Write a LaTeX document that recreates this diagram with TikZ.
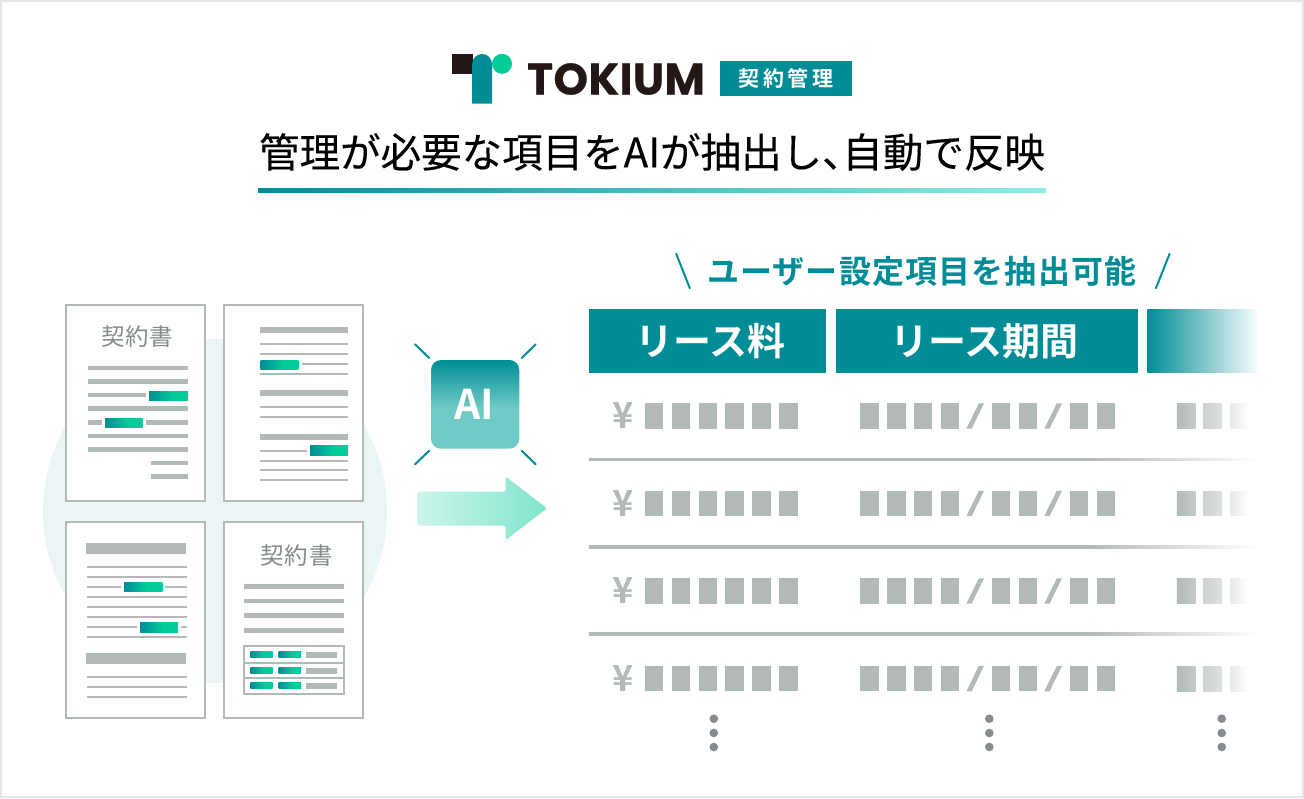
\documentclass[tikz,border=0pt]{standalone}
\usepackage{fontspec}
\setmainfont{Noto Sans CJK JP}
\newfontfamily\jpmed[FakeBold=0.25]{Noto Sans CJK JP}
\newfontfamily\jpbold{Noto Sans CJK JP Bold}
\newfontfamily\logofont[FakeBold=0.6]{Poppins Bold}
\definecolor{brandteal}{RGB}{0, 140, 150}
\definecolor{brandgreen}{RGB}{0, 204, 153}
\definecolor{softteal}{RGB}{111, 203, 197}
\definecolor{barend}{RGB}{142, 238, 228}
\definecolor{barfill}{RGB}{179, 184, 184}
\definecolor{papertitle}{RGB}{133, 138, 138}
\definecolor{discfill}{RGB}{235, 245, 246}
\definecolor{dotfill}{RGB}{135, 138, 142}
\definecolor{inkblack}{RGB}{35, 24, 21}
\usetikzlibrary{positioning}
\pgfdeclarehorizontalshading{chipfade}{100bp}{color(0bp)=(brandteal); color(25bp)=(brandteal); color(55bp)=(brandgreen); color(100bp)=(brandgreen)}
\pgfdeclarehorizontalshading{rulefade}{100bp}{color(0bp)=(barfill); color(25bp)=(barfill); color(62bp)=(barfill); color(75bp)=(white); color(100bp)=(white)}
\pgfdeclareverticalshading{aifade}{100bp}{color(0bp)=(softteal); color(25bp)=(softteal); color(48bp)=(softteal); color(75bp)=(brandteal); color(100bp)=(brandteal)}

\begin{document}
\begin{tikzpicture}[x=1pt, y=-1pt,
    paper/.style={draw=barfill, line width=2pt, fill=white},
    thinbar/.style={draw=barfill, line width=2pt},
    midbar/.style={draw=barfill, line width=4.6pt},
    headbar/.style={draw=barfill, line width=6pt},
    widebar/.style={draw=barfill, line width=11pt},
    chip/.style={shading=chipfade},
    papertext/.style={text=papertitle, inner sep=0pt, font=\fontsize{23.5}{25}\selectfont\addfontfeature{LetterSpace=3}},
    headcell/.style={text=white, inner sep=0pt, font=\fontsize{38}{42}\jpbold\selectfont},
    ray/.style={draw=brandteal, line width=2pt, line cap=round},
    block/.style={fill=barfill},
    moredots/.style={circle, fill=dotfill, inner sep=0pt, minimum size=8.6pt}]
  \useasboundingbox (0,0) rectangle (1304,798);

  % Frame
  \draw[fill=white, draw=black!10, line width=2pt] (1,1) rectangle (1303,797);

  % Logo
  \fill[inkblack] (452,54) rectangle (472.5,73.7);
  \fill[brandteal] (472.2,103.7) -- (472.2,64) arc[start angle=180, end angle=0, x radius=9.9, y radius=-10] -- (492,103.7) -- cycle;
  \fill[brandgreen] (502,63.8) circle[radius=10];
  \node[text=inkblack, inner sep=0pt, font=\fontsize{44}{46}\logofont\selectfont\addfontfeature{LetterSpace=1}] (tokium) at (616,79) {TOKIUM};
  \node[fill=brandteal, text=white, inner sep=0pt, minimum width=132.4pt, minimum height=35pt, font=\fontsize{21}{23}\jpbold\selectfont\addfontfeature{LetterSpace=17}] (badge) at (785.8,78.8) {契約管理};

  % Title
  \node[text=black, inner sep=0pt, font=\fontsize{40.5}{44}\jpmed\selectfont] (title) at (652,152) {管理が必要な項目をAIが抽出し、\hspace{-0.5em}自動で反映};
  \shade[left color=brandteal, right color=barend] (258,188) rectangle (1046,192);

  % Disc behind papers
  \fill[discfill] (215,511) circle[radius=172];

  % Paper 1
  \draw[paper] (66,305) rectangle (205,500.5);
  \node[papertext] (paperone) at (137,337) {契約書};
  \foreach \yy in {368,381.5,408.6,436,449.6}
    \draw[midbar] (88,\yy) -- (188,\yy);
  \draw[midbar] (88,395) -- (146,395);
  \draw[midbar] (88,422.5) -- (101.7,422.5);
  \draw[midbar] (146,422.5) -- (188,422.5);
  \draw[midbar] (150.7,463) -- (188,463);
  \draw[midbar] (150.7,476.5) -- (188,476.5);
  \shade[chip] (149,391) rectangle (188,400);
  \shade[chip] (105,418) rectangle (142.7,427);

  % Paper 2
  \draw[paper] (224,305) rectangle (363,500.5);
  \foreach \yy in {330,392.7,436.7}
    \draw[headbar] (260,\yy) -- (348,\yy);
  \foreach \yy in {343.7,353.7,374,406.7,416.7,460.7,470,480}
    \draw[thinbar] (260,\yy) -- (348,\yy);
  \draw[thinbar] (302,364) -- (348,364);
  \draw[thinbar] (260,450.7) -- (307,450.7);
  \shade[chip] (260.7,360) rectangle (298.3,369.3);
  \shade[chip] (310,445.7) rectangle (348,455);

  % Paper 3
  \draw[paper] (66,522) rectangle (205,718);
  \foreach \yy in {548.7,658.8}
    \draw[widebar] (86,\yy) -- (186,\yy);
  \foreach \yy in {566.7,576.7,596.7,607.3,617.3,637.3,676.7,686.7,696.7}
    \draw[thinbar] (87,\yy) -- (186.7,\yy);
  \draw[thinbar] (87,586.7) -- (121,586.7);
  \draw[thinbar] (165,586.7) -- (186.7,586.7);
  \draw[thinbar] (87,627.3) -- (136.7,627.3);
  \draw[thinbar] (181.3,627.3) -- (186.7,627.3);
  \shade[chip] (124,582) rectangle (162.3,591.3);
  \shade[chip] (140,622.7) rectangle (178,632);

  % Paper 4
  \draw[paper] (224,522) rectangle (363,718);
  \node[papertext] (paperfour) at (296.7,556) {契約書};
  \foreach \yy in {586.3,601,615.7,630.3}
    \draw[midbar] (244,\yy) -- (343.7,\yy);
  \draw[thinbar] (243.7,645.7) rectangle (343.7,694);
  \draw[thinbar] (243.7,662.7) -- (343.7,662.7);
  \draw[thinbar] (243.7,678.3) -- (343.7,678.3);
  \foreach \yy in {654.7,670.7,685.7} {
    \shade[chip] (250.3,\yy-2.9) rectangle (272.7,\yy+2.9);
    \shade[chip] (278.7,\yy-2.9) rectangle (301,\yy+2.9);
    \fill[barfill] (305.7,\yy-2.9) rectangle (337,\yy+2.9);
  }

  % AI box
  \shade[shading=aifade, rounded corners=10pt] (431,360) rectangle (519.3,448.7);
  \node[text=white, inner sep=0pt, font=\fontsize{41}{43}\jpbold\selectfont] (aitext) at (474,404.5) {AI};
  \draw[ray] (415,344.3) -- (429.3,358);
  \draw[ray] (535.7,344.3) -- (521.7,358);
  \draw[ray] (429.3,450.7) -- (415,464.3);
  \draw[ray] (521.7,450.7) -- (535.7,464.3);

  % Arrow
  \shade[left color=brandgreen!20, right color=brandgreen!50, rounded corners=1.5pt] (417.3,491.7) -- (505.7,491.7) -- (505.7,476.7) -- (547,508.3) -- (505.7,540) -- (505.7,525.7) -- (417.3,525.7) -- cycle;

  % Heading
  \node[text=brandteal, inner sep=0pt, font=\fontsize{32}{35}\jpbold\selectfont\addfontfeature{LetterSpace=3.6}] (subhead) at (921.8,271.5) {ユーザー設定項目を抽出可能};
  \draw[brandteal, line width=2pt] (676,253.3) -- (690,288.7);
  \draw[brandteal, line width=2pt] (1169.8,253.3) -- (1155.7,288.7);

  % Header cells
  \node[fill=brandteal, minimum width=236.8pt, minimum height=63.7pt, inner sep=0pt] (cellfee) at (707.2,340.85) {};
  \node[headcell, xshift=3pt] at (cellfee) {リース料};
  \node[fill=brandteal, minimum width=302pt, minimum height=63.7pt, inner sep=0pt] (cellterm) at (986.7,340.85) {};
  \node[headcell, xshift=-2pt] at (cellterm) {リース期間};
  \shade[left color=brandteal, right color=white] (1147.3,309) rectangle (1260,372.7);

  % Rows
  \foreach \yy in {416,503.5,591,678.6} {
    \node[text=barfill, inner sep=0pt, font=\fontsize{36}{38}\jpbold\selectfont] at (622.8,\yy) {¥};
    \foreach \xx in {644.7,671.6,698.5,725.4,752.3,779.2}
      \fill[block] (\xx,\yy-12.7) rectangle (\xx+18.6,\yy+12.7);
    \foreach \xx in {860,887.2,913.6,940.9,991.5,1018.8,1069.9,1096.7}
      \fill[block] (\xx,\yy-12.7) rectangle (\xx+18.5,\yy+12.7);
    \fill[block] (966.4,\yy+12.7) -- (971.6,\yy+12.7) -- (984,\yy-12.7) -- (978.8,\yy-12.7) -- cycle;
    \fill[block] (1044.3,\yy+12.7) -- (1049.5,\yy+12.7) -- (1062,\yy-12.7) -- (1056.8,\yy-12.7) -- cycle;
    \shade[left color=barfill, right color=barfill!75] (1176.8,\yy-12.4) rectangle (1195.3,\yy+12.4);
    \shade[left color=barfill!65, right color=barfill!45] (1203.2,\yy-12.4) rectangle (1221.5,\yy+12.4);
    \shade[left color=barfill!30, right color=white] (1230.5,\yy-12.4) rectangle (1249,\yy+12.4);
  }
  \foreach \yy in {459.3,546.7,634}
    \shade[shading=rulefade] (588.8,\yy-1.3) rectangle (1260,\yy+1.3);

  % More rows
  \foreach \xx in {713.8,989.3,1221.7}
    \foreach \yy in {718.7,733,747}
      \node[moredots] at (\xx,\yy) {};
\end{tikzpicture}
\end{document}
